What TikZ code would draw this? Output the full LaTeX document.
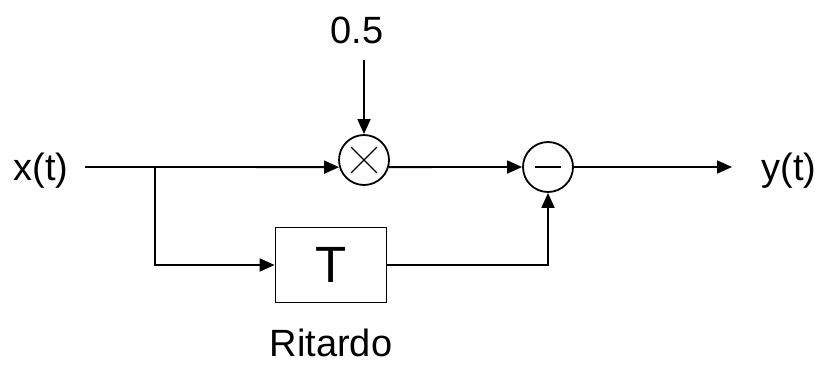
\documentclass[tikz,border=0pt]{standalone}
\usepackage{fontspec}
\setmainfont{Liberation Sans}
\usetikzlibrary{arrows.meta}
\begin{document}
\begin{tikzpicture}[x=1pt,y=-1pt,
  line width=1.8pt,
  arr/.style={-{Triangle[length=15pt,width=13pt]}},
  lbl/.style={font=\fontsize{38}{44}\selectfont, inner sep=0pt},
  opcirc/.style={circle, draw, minimum size=50pt, inner sep=0pt},
  blk/.style={draw, minimum width=111pt, minimum height=75pt, inner sep=0pt, font=\fontsize{51}{56}\selectfont}]
\useasboundingbox (0,0) rectangle (818,365);
\node[lbl, anchor=base] (xt) at (41,180) {x(t)};
\node[lbl, anchor=base] (yt) at (789,180) {y(t)};
\node[lbl, anchor=base] (gain) at (357,43) {0.5};
\node[lbl, anchor=base] (rit) at (331,356) {Ritardo};
\coordinate (in) at (85,167);
\coordinate (br) at (155,167);
\coordinate (brd) at (155,265);
\coordinate (gtop) at (364,60);
\coordinate (out) at (732,167);
\node[opcirc] (mul) at (364,160) {};
\draw[line width=1.3pt] ([shift={(-13,-13)}]mul.center) -- ([shift={(13,13)}]mul.center);
\draw[line width=1.3pt] ([shift={(-13,13)}]mul.center) -- ([shift={(13,-13)}]mul.center);
\node[opcirc] (sub) at (548,167) {};
\draw[line width=1.8pt] ([xshift=-13]sub.center) -- ([xshift=13]sub.center);
\node[blk] (T) at (331,265) {T};
\coordinate (fb) at (548,265);
\draw[arr] (in) -- (mul.196);
\draw[arr] (gtop) -- (mul.north);
\draw[arr] (mul.344) -- (sub.west);
\draw[arr] (sub.east) -- (out);
\draw[arr] (br) -- (brd) -- (T.west);
\draw[arr] (T.east) -- (fb) -- (sub.south);
\end{tikzpicture}
\end{document}
